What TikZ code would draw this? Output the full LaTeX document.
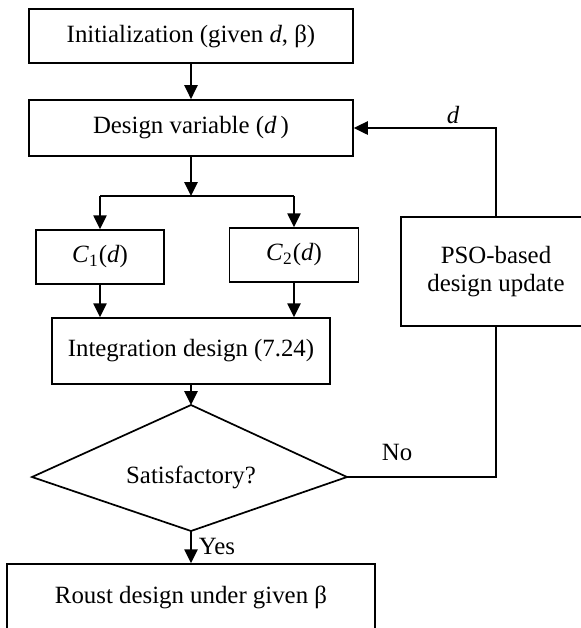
\documentclass[tikz,border=0pt]{standalone}
\usepackage{fontspec}
\setmainfont{Liberation Serif}
\usetikzlibrary{arrows.meta,positioning,calc}

\tikzset{
  blk/.style={draw, inner sep=0pt, align=center},
  arr/.style={-{Triangle[length=6.5pt,width=6.2pt]}},
}

\begin{document}
\begin{tikzpicture}[x=0.467pt,y=-0.467pt,line width=0.8pt,
    font=\fontsize{11.6}{13}\selectfont]
  \useasboundingbox (0,0) rectangle (581,628);
  % main column
  \node[blk, minimum width=151.3pt, minimum height=25.2pt] (init) at (191,36) {Initialization (given \textit{d}, β)};
  \node[blk, minimum width=151.3pt, minimum height=26.2pt] (dv) at (191,128) {Design variable (\textit{d}\,)};
  \coordinate (split) at (191,196);
  \node[blk, minimum width=59.8pt, minimum height=25.2pt] (c1) at (100,257) {\textit{C}\textsubscript{1}(\textit{d})};
  \node[blk, minimum width=60.2pt, minimum height=25.2pt] (c2) at (294,255) {\textit{C}\textsubscript{2}(\textit{d})};
  \node[blk, minimum width=129.8pt, minimum height=30.8pt] (integ) at (191,351) {Integration design (7.24)};
  % decision
  \coordinate (sat-n) at (191,405);
  \coordinate (sat-w) at (32,477);
  \coordinate (sat-s) at (191,531);
  \coordinate (sat-e) at (347,477);
  \draw (sat-n) -- (sat-w) -- (sat-s) -- (sat-e) -- cycle;
  \node (sat) at (191,477) {Satisfactory?};
  \node[blk, minimum width=171.9pt, minimum height=30.8pt] (robust) at (191,597) {Roust design under given β};
  % update loop
  \node[blk, minimum width=88.7pt, minimum height=50.9pt] (pso) at (496,271.5) {PSO-based\\design update};

  \draw[arr] (init) -- (dv);
  \draw[arr] (dv) -- (split);
  \draw (split -| c1) -- (split -| c2);
  \draw[arr] (split -| c1) -- (c1);
  \draw[arr] (split -| c2) -- (c2);
  \draw[arr] (c1) -- (c1 |- integ.north);
  \draw[arr] (c2) -- (c2 |- integ.north);
  \draw[arr] (integ) -- (sat-n);
  \draw[arr] (sat-s) -- (robust);
  \draw (sat-e) -| (pso);
  \draw[arr] (pso) |- (dv);
  \node (yes) at (217,546) {Yes};
  \node (no) at (397,452) {No};
  \node (dlab) at (453,115) {\textit{d}};
\end{tikzpicture}
\end{document}
